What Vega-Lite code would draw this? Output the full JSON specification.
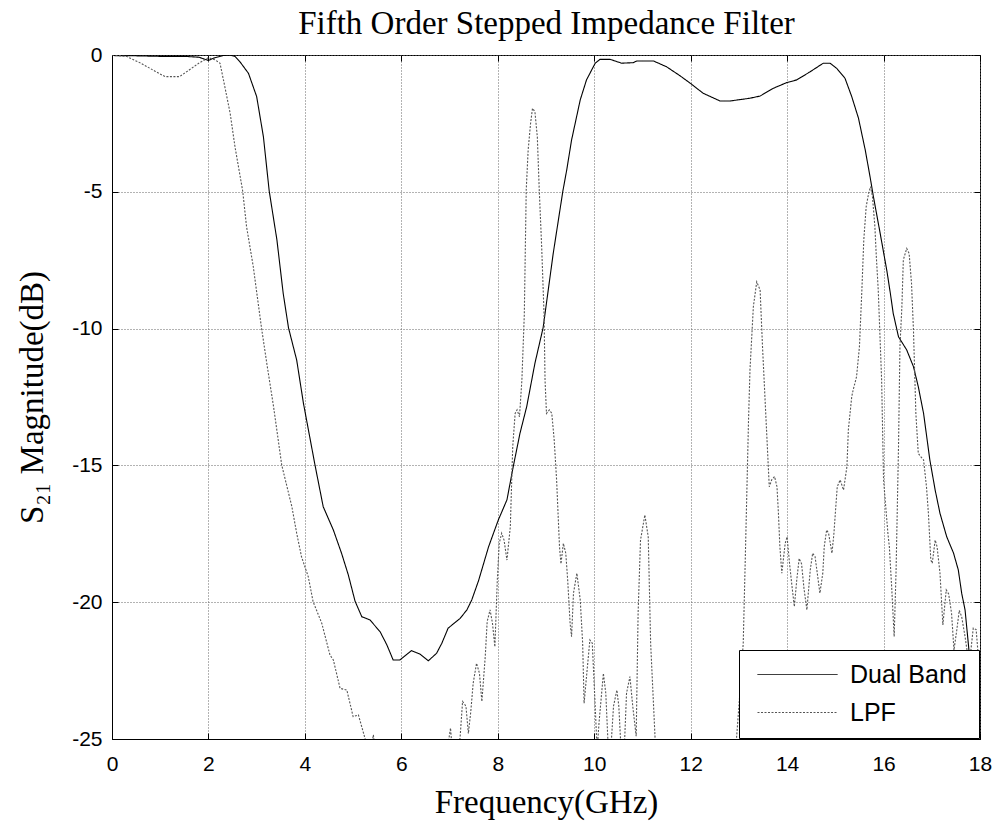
{
  "$schema": "https://vega.github.io/schema/vega-lite/v6.json",
  "width": 868,
  "height": 684,
  "autosize": {"type": "none"},
  "padding": {"left": 112, "top": 55, "right": 18, "bottom": 83},
  "background": "white",
  "config": {
    "font": "Liberation Sans",
    "view": {"stroke": "black", "strokeWidth": 1}
  },
  "data": {"values": [
    {"f":0,"s":-0.02,"series":"Dual Band"},{"f":0.5,"s":-0.03,"series":"Dual Band"},{"f":1.0,"s":-0.05,"series":"Dual Band"},{"f":1.5,"s":-0.05,"series":"Dual Band"},{"f":1.8,"s":-0.08,"series":"Dual Band"},{"f":2.0,"s":-0.2,"series":"Dual Band"},{"f":2.1,"s":-0.12,"series":"Dual Band"},{"f":2.3,"s":-0.02,"series":"Dual Band"},{"f":2.45,"s":0,"series":"Dual Band"},{"f":2.55,"s":-0.05,"series":"Dual Band"},{"f":2.65,"s":-0.24,"series":"Dual Band"},{"f":2.83,"s":-0.67,"series":"Dual Band"},{"f":3.0,"s":-1.52,"series":"Dual Band"},{"f":3.14,"s":-2.99,"series":"Dual Band"},{"f":3.26,"s":-4.97,"series":"Dual Band"},{"f":3.42,"s":-6.76,"series":"Dual Band"},{"f":3.55,"s":-8.71,"series":"Dual Band"},{"f":3.66,"s":-9.97,"series":"Dual Band"},{"f":3.83,"s":-11.15,"series":"Dual Band"},{"f":3.97,"s":-12.73,"series":"Dual Band"},{"f":4.21,"s":-14.99,"series":"Dual Band"},{"f":4.38,"s":-16.51,"series":"Dual Band"},{"f":4.59,"s":-17.36,"series":"Dual Band"},{"f":4.76,"s":-18.21,"series":"Dual Band"},{"f":4.9,"s":-19.0,"series":"Dual Band"},{"f":5.04,"s":-19.96,"series":"Dual Band"},{"f":5.18,"s":-20.53,"series":"Dual Band"},{"f":5.35,"s":-20.65,"series":"Dual Band"},{"f":5.56,"s":-21.08,"series":"Dual Band"},{"f":5.7,"s":-21.56,"series":"Dual Band"},{"f":5.83,"s":-22.11,"series":"Dual Band"},{"f":5.97,"s":-22.11,"series":"Dual Band"},{"f":6.21,"s":-21.77,"series":"Dual Band"},{"f":6.39,"s":-21.9,"series":"Dual Band"},{"f":6.56,"s":-22.14,"series":"Dual Band"},{"f":6.73,"s":-21.87,"series":"Dual Band"},{"f":6.84,"s":-21.5,"series":"Dual Band"},{"f":6.97,"s":-20.95,"series":"Dual Band"},{"f":7.22,"s":-20.59,"series":"Dual Band"},{"f":7.36,"s":-20.28,"series":"Dual Band"},{"f":7.46,"s":-19.92,"series":"Dual Band"},{"f":7.6,"s":-19.22,"series":"Dual Band"},{"f":7.81,"s":-17.97,"series":"Dual Band"},{"f":8.01,"s":-17.0,"series":"Dual Band"},{"f":8.19,"s":-16.26,"series":"Dual Band"},{"f":8.32,"s":-15.05,"series":"Dual Band"},{"f":8.46,"s":-13.83,"series":"Dual Band"},{"f":8.6,"s":-12.85,"series":"Dual Band"},{"f":8.77,"s":-11.27,"series":"Dual Band"},{"f":8.94,"s":-9.97,"series":"Dual Band"},{"f":9.15,"s":-7.25,"series":"Dual Band"},{"f":9.35,"s":-4.97,"series":"Dual Band"},{"f":9.43,"s":-4.2,"series":"Dual Band"},{"f":9.53,"s":-3.11,"series":"Dual Band"},{"f":9.71,"s":-1.64,"series":"Dual Band"},{"f":9.84,"s":-0.91,"series":"Dual Band"},{"f":10.02,"s":-0.3,"series":"Dual Band"},{"f":10.12,"s":-0.16,"series":"Dual Band"},{"f":10.33,"s":-0.16,"series":"Dual Band"},{"f":10.57,"s":-0.3,"series":"Dual Band"},{"f":10.81,"s":-0.28,"series":"Dual Band"},{"f":10.88,"s":-0.22,"series":"Dual Band"},{"f":11.23,"s":-0.22,"series":"Dual Band"},{"f":11.5,"s":-0.43,"series":"Dual Band"},{"f":11.78,"s":-0.76,"series":"Dual Band"},{"f":11.99,"s":-1.03,"series":"Dual Band"},{"f":12.26,"s":-1.4,"series":"Dual Band"},{"f":12.61,"s":-1.68,"series":"Dual Band"},{"f":12.82,"s":-1.68,"series":"Dual Band"},{"f":13.23,"s":-1.58,"series":"Dual Band"},{"f":13.44,"s":-1.5,"series":"Dual Band"},{"f":13.71,"s":-1.22,"series":"Dual Band"},{"f":13.99,"s":-1.01,"series":"Dual Band"},{"f":14.2,"s":-0.91,"series":"Dual Band"},{"f":14.48,"s":-0.61,"series":"Dual Band"},{"f":14.75,"s":-0.3,"series":"Dual Band"},{"f":14.89,"s":-0.3,"series":"Dual Band"},{"f":15.03,"s":-0.49,"series":"Dual Band"},{"f":15.2,"s":-0.85,"series":"Dual Band"},{"f":15.34,"s":-1.52,"series":"Dual Band"},{"f":15.48,"s":-2.31,"series":"Dual Band"},{"f":15.62,"s":-3.47,"series":"Dual Band"},{"f":15.72,"s":-4.45,"series":"Dual Band"},{"f":15.79,"s":-5.18,"series":"Dual Band"},{"f":15.93,"s":-6.52,"series":"Dual Band"},{"f":16.07,"s":-7.9,"series":"Dual Band"},{"f":16.14,"s":-8.7,"series":"Dual Band"},{"f":16.2,"s":-9.44,"series":"Dual Band"},{"f":16.31,"s":-10.3,"series":"Dual Band"},{"f":16.48,"s":-10.78,"series":"Dual Band"},{"f":16.62,"s":-11.39,"series":"Dual Band"},{"f":16.72,"s":-12.12,"series":"Dual Band"},{"f":16.83,"s":-13.1,"series":"Dual Band"},{"f":16.96,"s":-14.8,"series":"Dual Band"},{"f":17.07,"s":-15.9,"series":"Dual Band"},{"f":17.17,"s":-16.75,"series":"Dual Band"},{"f":17.31,"s":-17.61,"series":"Dual Band"},{"f":17.45,"s":-18.2,"series":"Dual Band"},{"f":17.55,"s":-18.82,"series":"Dual Band"},{"f":17.62,"s":-19.67,"series":"Dual Band"},{"f":17.69,"s":-20.28,"series":"Dual Band"},{"f":17.79,"s":-22.1,"series":"Dual Band"},{"f":17.9,"s":-23.0,"series":"Dual Band"},{"f":18.0,"s":-24.0,"series":"Dual Band"},

    {"f":0,"s":0,"series":"LPF"},{"f":0.3,"s":-0.05,"series":"LPF"},{"f":0.6,"s":-0.3,"series":"LPF"},{"f":0.9,"s":-0.6,"series":"LPF"},{"f":1.1,"s":-0.79,"series":"LPF"},{"f":1.4,"s":-0.79,"series":"LPF"},{"f":1.6,"s":-0.55,"series":"LPF"},{"f":1.8,"s":-0.3,"series":"LPF"},{"f":1.9,"s":-0.2,"series":"LPF"},{"f":2.0,"s":-0.1,"series":"LPF"},{"f":2.14,"s":-0.18,"series":"LPF"},{"f":2.24,"s":-0.3,"series":"LPF"},{"f":2.34,"s":-1.16,"series":"LPF"},{"f":2.45,"s":-2.13,"series":"LPF"},{"f":2.55,"s":-3.35,"series":"LPF"},{"f":2.71,"s":-4.97,"series":"LPF"},{"f":2.79,"s":-6.27,"series":"LPF"},{"f":2.93,"s":-7.74,"series":"LPF"},{"f":2.98,"s":-8.4,"series":"LPF"},{"f":3.1,"s":-9.97,"series":"LPF"},{"f":3.21,"s":-11.27,"series":"LPF"},{"f":3.35,"s":-12.85,"series":"LPF"},{"f":3.52,"s":-14.99,"series":"LPF"},{"f":3.73,"s":-16.51,"series":"LPF"},{"f":3.83,"s":-17.48,"series":"LPF"},{"f":3.93,"s":-18.34,"series":"LPF"},{"f":4.07,"s":-19.07,"series":"LPF"},{"f":4.17,"s":-19.98,"series":"LPF"},{"f":4.35,"s":-20.77,"series":"LPF"},{"f":4.52,"s":-21.93,"series":"LPF"},{"f":4.59,"s":-22.11,"series":"LPF"},{"f":4.73,"s":-23.15,"series":"LPF"},{"f":4.87,"s":-23.21,"series":"LPF"},{"f":5.0,"s":-24.18,"series":"LPF"},{"f":5.11,"s":-24.12,"series":"LPF"},{"f":5.25,"s":-25.0,"series":"LPF"},{"f":5.35,"s":-25.6,"series":"LPF"},{"f":5.42,"s":-24.85,"series":"LPF"},{"f":5.5,"s":-26.0,"series":"LPF"},{"f":6.0,"s":-28.0,"series":"LPF"},{"f":6.5,"s":-28.0,"series":"LPF"},{"f":6.9,"s":-26.0,"series":"LPF"},{"f":7.02,"s":-24.6,"series":"LPF"},{"f":7.06,"s":-25.5,"series":"LPF"},{"f":7.18,"s":-25.6,"series":"LPF"},{"f":7.22,"s":-24.9,"series":"LPF"},{"f":7.27,"s":-23.63,"series":"LPF"},{"f":7.34,"s":-23.8,"series":"LPF"},{"f":7.39,"s":-24.8,"series":"LPF"},{"f":7.44,"s":-24.0,"series":"LPF"},{"f":7.49,"s":-22.96,"series":"LPF"},{"f":7.56,"s":-22.23,"series":"LPF"},{"f":7.62,"s":-22.6,"series":"LPF"},{"f":7.67,"s":-23.63,"series":"LPF"},{"f":7.74,"s":-21.99,"series":"LPF"},{"f":7.78,"s":-20.71,"series":"LPF"},{"f":7.84,"s":-20.28,"series":"LPF"},{"f":7.89,"s":-20.77,"series":"LPF"},{"f":7.94,"s":-21.63,"series":"LPF"},{"f":7.99,"s":-19.2,"series":"LPF"},{"f":8.03,"s":-17.85,"series":"LPF"},{"f":8.08,"s":-17.48,"series":"LPF"},{"f":8.13,"s":-17.73,"series":"LPF"},{"f":8.19,"s":-18.46,"series":"LPF"},{"f":8.26,"s":-17.24,"series":"LPF"},{"f":8.31,"s":-14.32,"series":"LPF"},{"f":8.36,"s":-13.1,"series":"LPF"},{"f":8.4,"s":-12.97,"series":"LPF"},{"f":8.45,"s":-13.22,"series":"LPF"},{"f":8.5,"s":-11.88,"series":"LPF"},{"f":8.55,"s":-9.5,"series":"LPF"},{"f":8.59,"s":-4.93,"series":"LPF"},{"f":8.63,"s":-3.47,"series":"LPF"},{"f":8.68,"s":-2.5,"series":"LPF"},{"f":8.72,"s":-1.95,"series":"LPF"},{"f":8.77,"s":-2.07,"series":"LPF"},{"f":8.82,"s":-2.99,"series":"LPF"},{"f":8.86,"s":-4.93,"series":"LPF"},{"f":8.91,"s":-7.0,"series":"LPF"},{"f":8.96,"s":-9.5,"series":"LPF"},{"f":8.98,"s":-11.88,"series":"LPF"},{"f":9.01,"s":-13.1,"series":"LPF"},{"f":9.07,"s":-12.97,"series":"LPF"},{"f":9.12,"s":-13.1,"series":"LPF"},{"f":9.17,"s":-14.07,"series":"LPF"},{"f":9.22,"s":-15.53,"series":"LPF"},{"f":9.28,"s":-17.97,"series":"LPF"},{"f":9.31,"s":-18.6,"series":"LPF"},{"f":9.36,"s":-17.85,"series":"LPF"},{"f":9.41,"s":-18.21,"series":"LPF"},{"f":9.45,"s":-19.2,"series":"LPF"},{"f":9.5,"s":-20.77,"series":"LPF"},{"f":9.53,"s":-21.26,"series":"LPF"},{"f":9.57,"s":-19.67,"series":"LPF"},{"f":9.64,"s":-18.94,"series":"LPF"},{"f":9.71,"s":-19.92,"series":"LPF"},{"f":9.76,"s":-21.5,"series":"LPF"},{"f":9.79,"s":-23.7,"series":"LPF"},{"f":9.84,"s":-22.72,"series":"LPF"},{"f":9.91,"s":-21.38,"series":"LPF"},{"f":9.96,"s":-21.5,"series":"LPF"},{"f":10.02,"s":-23.8,"series":"LPF"},{"f":10.06,"s":-25.4,"series":"LPF"},{"f":10.1,"s":-24.4,"series":"LPF"},{"f":10.19,"s":-22.6,"series":"LPF"},{"f":10.24,"s":-23.33,"series":"LPF"},{"f":10.29,"s":-25.3,"series":"LPF"},{"f":10.34,"s":-25.5,"series":"LPF"},{"f":10.4,"s":-23.8,"series":"LPF"},{"f":10.47,"s":-23.21,"series":"LPF"},{"f":10.51,"s":-23.8,"series":"LPF"},{"f":10.56,"s":-25.5,"series":"LPF"},{"f":10.62,"s":-25.5,"series":"LPF"},{"f":10.67,"s":-23.33,"series":"LPF"},{"f":10.74,"s":-22.72,"series":"LPF"},{"f":10.8,"s":-23.82,"series":"LPF"},{"f":10.87,"s":-24.9,"series":"LPF"},{"f":10.91,"s":-20.4,"series":"LPF"},{"f":10.96,"s":-17.73,"series":"LPF"},{"f":11.05,"s":-16.81,"series":"LPF"},{"f":11.12,"s":-17.61,"series":"LPF"},{"f":11.17,"s":-21.5,"series":"LPF"},{"f":11.26,"s":-24.9,"series":"LPF"},{"f":11.35,"s":-27.0,"series":"LPF"},{"f":12.0,"s":-30.0,"series":"LPF"},{"f":12.85,"s":-27.0,"series":"LPF"},{"f":12.95,"s":-25.0,"series":"LPF"},{"f":13.02,"s":-23.33,"series":"LPF"},{"f":13.09,"s":-21.5,"series":"LPF"},{"f":13.13,"s":-18.6,"series":"LPF"},{"f":13.2,"s":-13.34,"series":"LPF"},{"f":13.23,"s":-11.51,"series":"LPF"},{"f":13.3,"s":-9.2,"series":"LPF"},{"f":13.37,"s":-8.29,"series":"LPF"},{"f":13.44,"s":-8.59,"series":"LPF"},{"f":13.49,"s":-10.66,"series":"LPF"},{"f":13.54,"s":-12.49,"series":"LPF"},{"f":13.59,"s":-14.32,"series":"LPF"},{"f":13.63,"s":-15.78,"series":"LPF"},{"f":13.68,"s":-15.53,"series":"LPF"},{"f":13.74,"s":-15.41,"series":"LPF"},{"f":13.79,"s":-15.78,"series":"LPF"},{"f":13.82,"s":-16.75,"series":"LPF"},{"f":13.85,"s":-17.97,"series":"LPF"},{"f":13.89,"s":-18.94,"series":"LPF"},{"f":13.96,"s":-17.85,"series":"LPF"},{"f":14.0,"s":-17.61,"series":"LPF"},{"f":14.05,"s":-18.58,"series":"LPF"},{"f":14.1,"s":-19.4,"series":"LPF"},{"f":14.15,"s":-20.16,"series":"LPF"},{"f":14.2,"s":-19.19,"series":"LPF"},{"f":14.25,"s":-18.4,"series":"LPF"},{"f":14.3,"s":-18.6,"series":"LPF"},{"f":14.35,"s":-19.5,"series":"LPF"},{"f":14.41,"s":-20.28,"series":"LPF"},{"f":14.48,"s":-18.82,"series":"LPF"},{"f":14.53,"s":-18.21,"series":"LPF"},{"f":14.58,"s":-18.34,"series":"LPF"},{"f":14.63,"s":-19.0,"series":"LPF"},{"f":14.68,"s":-19.67,"series":"LPF"},{"f":14.74,"s":-18.94,"series":"LPF"},{"f":14.77,"s":-17.97,"series":"LPF"},{"f":14.82,"s":-17.36,"series":"LPF"},{"f":14.86,"s":-17.48,"series":"LPF"},{"f":14.93,"s":-18.21,"series":"LPF"},{"f":14.97,"s":-17.5,"series":"LPF"},{"f":15.0,"s":-16.75,"series":"LPF"},{"f":15.04,"s":-15.78,"series":"LPF"},{"f":15.1,"s":-15.53,"series":"LPF"},{"f":15.17,"s":-15.9,"series":"LPF"},{"f":15.24,"s":-15.05,"series":"LPF"},{"f":15.27,"s":-13.7,"series":"LPF"},{"f":15.34,"s":-12.49,"series":"LPF"},{"f":15.37,"s":-12.24,"series":"LPF"},{"f":15.44,"s":-11.76,"series":"LPF"},{"f":15.5,"s":-10.66,"series":"LPF"},{"f":15.55,"s":-8.6,"series":"LPF"},{"f":15.59,"s":-6.76,"series":"LPF"},{"f":15.64,"s":-5.54,"series":"LPF"},{"f":15.69,"s":-5.06,"series":"LPF"},{"f":15.73,"s":-4.81,"series":"LPF"},{"f":15.77,"s":-5.18,"series":"LPF"},{"f":15.82,"s":-6.27,"series":"LPF"},{"f":15.85,"s":-7.37,"series":"LPF"},{"f":15.89,"s":-8.6,"series":"LPF"},{"f":15.96,"s":-11.88,"series":"LPF"},{"f":16.0,"s":-15.53,"series":"LPF"},{"f":16.09,"s":-17.48,"series":"LPF"},{"f":16.12,"s":-17.97,"series":"LPF"},{"f":16.17,"s":-19.5,"series":"LPF"},{"f":16.22,"s":-21.26,"series":"LPF"},{"f":16.26,"s":-18.82,"series":"LPF"},{"f":16.31,"s":-14.32,"series":"LPF"},{"f":16.34,"s":-10.66,"series":"LPF"},{"f":16.38,"s":-9.2,"series":"LPF"},{"f":16.41,"s":-7.49,"series":"LPF"},{"f":16.48,"s":-7.07,"series":"LPF"},{"f":16.53,"s":-7.25,"series":"LPF"},{"f":16.58,"s":-8.35,"series":"LPF"},{"f":16.62,"s":-10.05,"series":"LPF"},{"f":16.67,"s":-13.1,"series":"LPF"},{"f":16.72,"s":-14.56,"series":"LPF"},{"f":16.77,"s":-14.68,"series":"LPF"},{"f":16.83,"s":-14.8,"series":"LPF"},{"f":16.89,"s":-15.78,"series":"LPF"},{"f":16.93,"s":-16.75,"series":"LPF"},{"f":16.98,"s":-18.46,"series":"LPF"},{"f":17.01,"s":-18.58,"series":"LPF"},{"f":17.07,"s":-17.73,"series":"LPF"},{"f":17.11,"s":-17.97,"series":"LPF"},{"f":17.17,"s":-18.94,"series":"LPF"},{"f":17.23,"s":-20.83,"series":"LPF"},{"f":17.3,"s":-19.55,"series":"LPF"},{"f":17.35,"s":-19.7,"series":"LPF"},{"f":17.41,"s":-20.4,"series":"LPF"},{"f":17.46,"s":-21.75,"series":"LPF"},{"f":17.52,"s":-21.0,"series":"LPF"},{"f":17.57,"s":-20.3,"series":"LPF"},{"f":17.62,"s":-20.53,"series":"LPF"},{"f":17.69,"s":-21.26,"series":"LPF"},{"f":17.74,"s":-21.87,"series":"LPF"},{"f":17.79,"s":-22.1,"series":"LPF"},{"f":17.86,"s":-20.95,"series":"LPF"},{"f":17.92,"s":-21.0,"series":"LPF"},{"f":17.96,"s":-21.87,"series":"LPF"},{"f":18.0,"s":-22.5,"series":"LPF"}
  ]},
  "layer": [
    {
      "mark": {"type": "line", "clip": true, "strokeWidth": 1.1, "interpolate": "linear"},
      "encoding": {
        "x": {"field": "f", "type": "quantitative",
              "scale": {"domain": [0, 18], "nice": false, "zero": false},
              "axis": {"orient": "bottom", "values": [0,2,4,6,8,10,12,14,16,18], "title": "Frequency(GHz)",
                       "titleFont": "Liberation Serif", "titleFontSize": 33, "titleFontWeight": "normal", "titleColor": "black",
                       "titleBaseline": "alphabetic", "titleY": 73, "titleX": 434, "titleAlign": "center",
                       "labelFont": "Liberation Sans", "labelFontSize": 21, "labelColor": "black", "labelPadding": 20, "labelBaseline": "top",
                       "labelFlush": false, "labelOverlap": false, "labelExpr": "'' + datum.value",
                       "tickSize": -6, "tickColor": "black", "domainColor": "black", "domainWidth": 1,
                       "grid": true, "gridColor": "#666666", "gridDash": [1, 2], "gridWidth": 1}},
        "y": {"field": "s", "type": "quantitative",
              "scale": {"domain": [-25, 0], "nice": false, "zero": false},
              "axis": {"orient": "left", "values": [-25,-20,-15,-10,-5,0], "title": "S₂₁ Magnitude(dB)",
                       "titleFont": "Liberation Serif", "titleFontSize": 33, "titleFontWeight": "normal", "titleColor": "black",
                       "titleAngle": 270, "titleBaseline": "alphabetic", "titleX": -70, "titleY": 342, "titleAlign": "center",
                       "labelFont": "Liberation Sans", "labelFontSize": 21, "labelColor": "black", "labelPadding": 16, "labelBaseline": "middle",
                       "labelFlush": false, "labelOverlap": false, "labelExpr": "'' + datum.value",
                       "tickSize": -6, "tickColor": "black", "domainColor": "black", "domainWidth": 1,
                       "grid": true, "gridColor": "#666666", "gridDash": [1, 2], "gridWidth": 1}},
        "color": {"field": "series", "type": "nominal",
                  "scale": {"domain": ["Dual Band", "LPF"], "range": ["#000000", "#555555"]},
                  "legend": {"title": null, "orient": "bottom-right", "offset": 1, "fillColor": "white", "strokeColor": "black",
                             "padding": 12, "labelFont": "Liberation Sans", "labelFontSize": 25, "labelColor": "black",
                             "symbolType": "M-4,0H4", "symbolSize": 400, "symbolStrokeWidth": 1, "symbolOffset": 34,
                             "rowPadding": 12, "labelOffset": 40, "labelLimit": 300}},
        "strokeDash": {"field": "series", "type": "nominal",
                       "scale": {"domain": ["Dual Band", "LPF"], "range": [[1, 0], [2, 1.5]]},
                       "legend": {"title": null, "orient": "bottom-right", "offset": 1, "fillColor": "white", "strokeColor": "black",
                             "padding": 12, "labelFont": "Liberation Sans", "labelFontSize": 25, "labelColor": "black",
                             "symbolType": "M-4,0H4", "symbolSize": 400, "symbolStrokeWidth": 1, "symbolOffset": 34,
                             "rowPadding": 12, "labelOffset": 40, "labelLimit": 300}},
        "detail": {"field": "series"}
      }
    },
    {
      "mark": {"type": "line", "opacity": 0, "clip": true},
      "encoding": {
        "x": {"field": "f", "type": "quantitative",
              "axis": {"orient": "top", "values": [0,2,4,6,8,10,12,14,16,18], "title": "Fifth Order Stepped Impedance Filter",
                       "titleFont": "Liberation Serif", "titleFontSize": 33, "titleFontWeight": "normal", "titleColor": "black",
                       "titleBaseline": "alphabetic", "titleY": -22, "titleX": 434, "titleAlign": "center",
                       "labels": false, "domain": false, "grid": false,
                       "tickSize": -6, "tickColor": "black"}},
        "y": {"field": "s", "type": "quantitative",
              "axis": {"orient": "right", "values": [-25,-20,-15,-10,-5,0], "title": null, "labels": false, "domain": false, "grid": false,
                       "tickSize": -6, "tickColor": "black"}},
        "detail": {"field": "series"}
      }
    }
  ],
  "resolve": {"axis": {"x": "independent", "y": "independent"}}
}
